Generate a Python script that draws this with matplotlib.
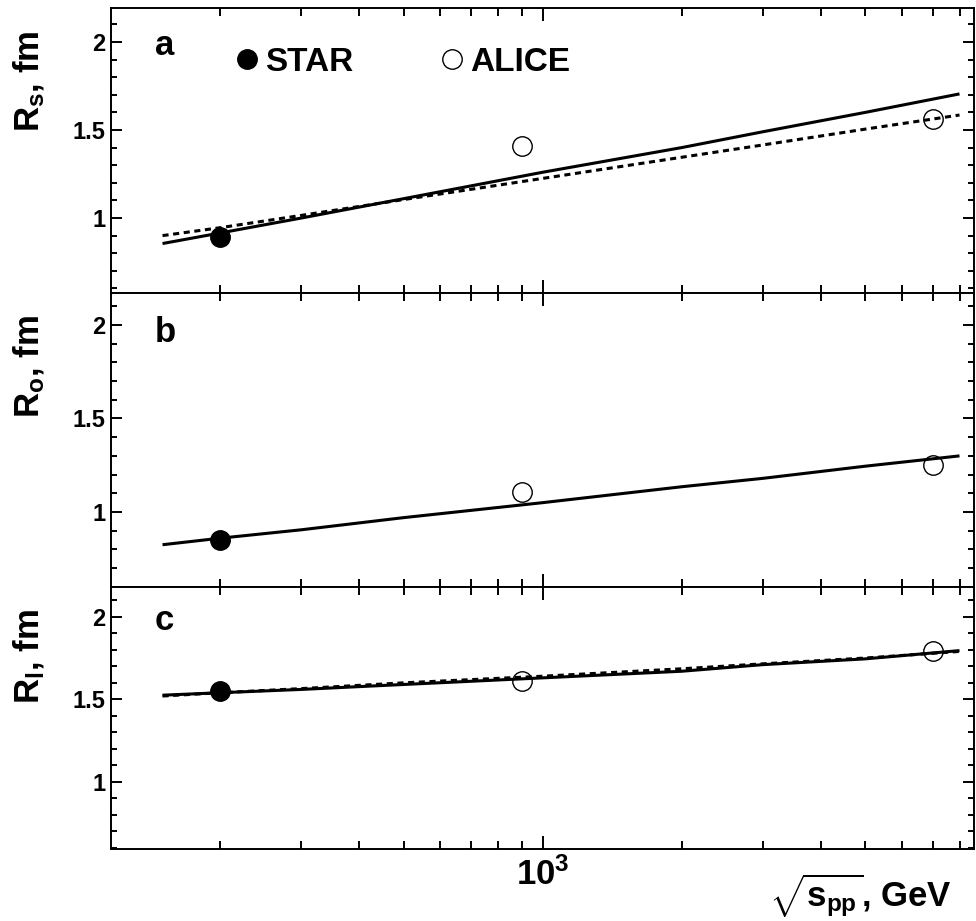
import matplotlib
matplotlib.use("Agg")
import matplotlib.pyplot as plt
from matplotlib.lines import Line2D
from matplotlib.ticker import MultipleLocator, FuncFormatter, LogLocator, NullFormatter, FixedLocator

plt.rcParams['font.family'] = ['Liberation Sans', 'DejaVu Sans']
plt.rcParams['font.weight'] = 'bold'
plt.rcParams['axes.labelweight'] = 'bold'
plt.rcParams['mathtext.fontset'] = 'custom'
plt.rcParams['mathtext.rm'] = 'Liberation Sans:bold'
plt.rcParams['mathtext.it'] = 'Liberation Sans:bold'
plt.rcParams['mathtext.bf'] = 'Liberation Sans:bold'

# data points (GeV, fm)
star_x = [200]
alice_x = [900, 7000]
star_rs = [0.89]
alice_rs = [1.41, 1.56]
star_ro = [0.85]
alice_ro = [1.106, 1.25]
star_rl = [1.548]
alice_rl = [1.614, 1.79]

# model curves
curve_x = [150, 200, 300, 500, 1000, 2000, 3000, 5000, 8000]
rs_solid = [0.855, 0.915, 1.0, 1.11, 1.26, 1.40, 1.49, 1.60, 1.705]
rs_dotted = [0.90, 0.945, 1.015, 1.105, 1.225, 1.345, 1.415, 1.505, 1.585]
ro_solid = [0.825, 0.86, 0.905, 0.97, 1.05, 1.135, 1.18, 1.245, 1.30]
rl_solid = [1.525, 1.54, 1.56, 1.59, 1.63, 1.67, 1.71, 1.745, 1.795]
rl_dotted = [1.52, 1.54, 1.565, 1.60, 1.64, 1.685, 1.715, 1.75, 1.79]

panels = [
    ('a', r'R$_s$, fm', star_rs, alice_rs, rs_solid, rs_dotted, (0.574, 2.193)),
    ('b', r'R$_o$, fm', star_ro, alice_ro, ro_solid, None, (0.599, 2.171)),
    ('c', r'R$_l$, fm', star_rl, alice_rl, rl_solid, rl_dotted, (0.594, 2.18)),
]

fig = plt.figure(figsize=(9.76, 9.21), dpi=100)
gs = fig.add_gridspec(3, 1, height_ratios=[285, 294, 262], hspace=0,
                      left=111/976, right=974/976, top=1-8/921, bottom=1-849/921)

axes = []
for i, (letter, ylab, s, a, sol, dot, ylim) in enumerate(panels):
    ax = fig.add_subplot(gs[i, 0])
    axes.append(ax)
    ax.plot(curve_x, sol, color='black', lw=2.2, solid_capstyle='butt')
    if dot is not None:
        ax.plot(curve_x, dot, color='black', lw=2.2, linestyle=(0, (2, 1.5)))
    ax.plot(star_x, s, 'o', color='black', ms=14, zorder=5)
    ax.plot(alice_x, a, 'o', mfc='none', mec='black', mew=1.0, ms=14, zorder=5)

    ax.set_xscale('log')
    ax.set_xlim(116, 8600)
    ax.set_ylim(*ylim)
    ax.yaxis.set_major_locator(MultipleLocator(0.5))
    ax.yaxis.set_minor_locator(MultipleLocator(0.1))
    ax.yaxis.set_major_formatter(FuncFormatter(lambda v, p: '%g' % v))
    ax.xaxis.set_major_locator(FixedLocator([1000]))
    ax.xaxis.set_minor_locator(LogLocator(base=10, subs=range(2, 10)))
    ax.xaxis.set_minor_formatter(NullFormatter())
    ax.tick_params(which='both', direction='in', top=True, right=True, width=1.4)
    ax.tick_params(axis='x', which='major', length=9.5)
    ax.tick_params(axis='x', which='minor', length=5.8)
    ax.tick_params(axis='y', which='major', length=8, labelsize=17, pad=4)
    ax.tick_params(axis='y', which='minor', length=4.3)
    for sp in ax.spines.values():
        sp.set_linewidth(1.4)

    ax.text(0.051, 0.835, letter, transform=ax.transAxes, fontsize=25,
            fontweight='bold', ha='left', va='baseline')
    ax.set_ylabel(ylab, fontsize=25, fontweight='bold', loc='top')
    h = [285, 294, 262][i]
    ax.yaxis.set_label_coords((47-111)/864, 1-22/h)

    if i < 2:
        ax.tick_params(axis='x', labelbottom=False)
    else:
        ax.xaxis.set_major_formatter(FuncFormatter(lambda v, p: r'$10^3$'))
        ax.tick_params(axis='x', which='major', labelsize=25, pad=6)

handles = [Line2D([], [], marker='o', ls='none', color='black', ms=14),
           Line2D([], [], marker='o', ls='none', mfc='none', mec='black', mew=1.0, ms=14)]
axes[0].legend(handles, ['STAR', 'ALICE'], ncol=2, frameon=False, fontsize=24,
               loc='center left', bbox_to_anchor=(0.148, 0.81), borderpad=0,
               borderaxespad=0, handlelength=0.5, handletextpad=0.3,
               columnspacing=2.7, prop={'weight': 'bold', 'size': 24})

axes[2].set_xlabel(r'$\sqrt{s_{pp}}$, GeV', fontsize=25, fontweight='bold', loc='right')
axes[2].xaxis.set_label_coords((953-111)/864, -0.088)

fig.savefig('out.png', dpi=100)
